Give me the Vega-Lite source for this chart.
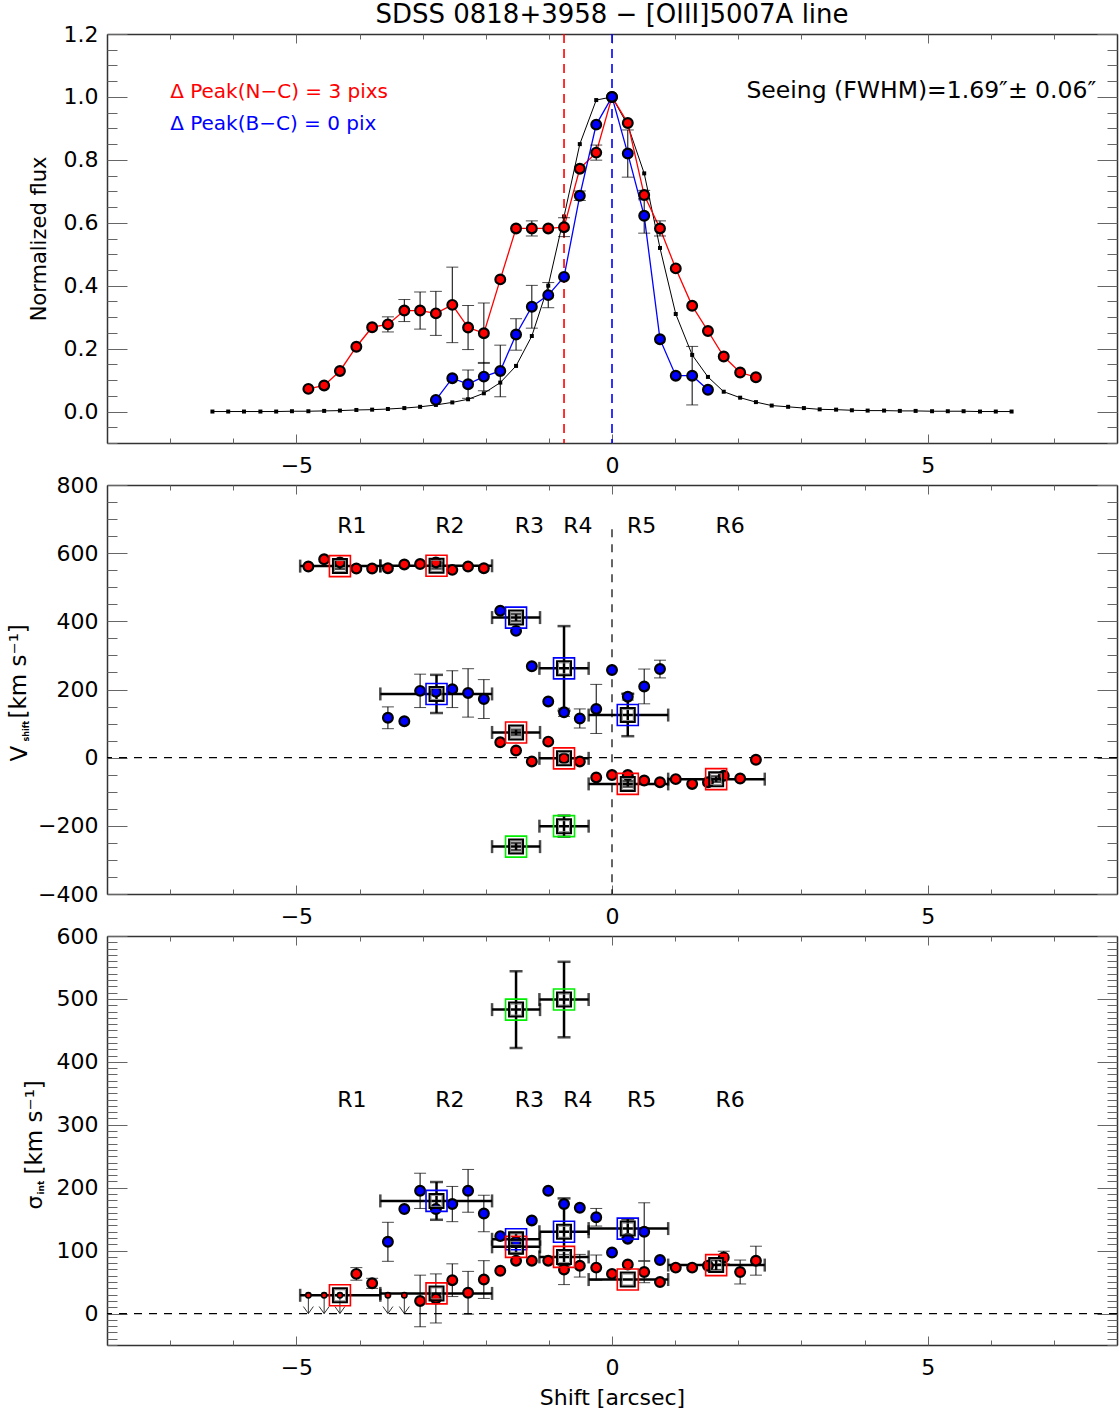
{
  "$schema": "https://vega.github.io/schema/vega-lite/v6.json",
  "padding": {"left": 7, "top": 2, "right": 1, "bottom": 0},
  "title": {"text": "SDSS 0818+3958 − [OIII]5007A line", "fontSize": 26, "fontWeight": "normal", "font": "DejaVu Sans", "color": "black", "anchor": "middle", "frame": "group", "offset": -5},
  "config": {
    "view": {"stroke": null},
    "font": "DejaVu Sans",
    "axis": {"grid": false, "domainColor": "#333", "domainWidth": 1.5, "tickColor": "#666", "tickWidth": 1, "labelFont": "DejaVu Sans", "labelFontSize": 22, "labelColor": "black", "titleFont": "DejaVu Sans", "titleFontSize": 21, "titleFontWeight": "normal", "titleColor": "black", "labelOverlap": false, "labelFlush": false, "labelBound": false},
    "text": {"font": "DejaVu Sans", "color": "black"}
  },
  "datasets": {
    "profileC": [
      {"shift": -6.33, "flux": 0.0}, {"shift": -6.08, "flux": 0.0}, {"shift": -5.83, "flux": 0.0}, {"shift": -5.57, "flux": 0.0}, {"shift": -5.32, "flux": 0.0}, {"shift": -5.07, "flux": 0.001},
      {"shift": -4.81, "flux": 0.001}, {"shift": -4.56, "flux": 0.002}, {"shift": -4.31, "flux": 0.003}, {"shift": -4.05, "flux": 0.005}, {"shift": -3.80, "flux": 0.006}, {"shift": -3.55, "flux": 0.008},
      {"shift": -3.29, "flux": 0.011}, {"shift": -3.04, "flux": 0.015}, {"shift": -2.79, "flux": 0.021}, {"shift": -2.53, "flux": 0.029}, {"shift": -2.28, "flux": 0.039}, {"shift": -2.03, "flux": 0.058},
      {"shift": -1.77, "flux": 0.092}, {"shift": -1.52, "flux": 0.145}, {"shift": -1.27, "flux": 0.24}, {"shift": -1.01, "flux": 0.40}, {"shift": -0.76, "flux": 0.62}, {"shift": -0.51, "flux": 0.85},
      {"shift": -0.25, "flux": 0.99}, {"shift": 0, "flux": 1.0}, {"shift": 0.25, "flux": 0.91}, {"shift": 0.51, "flux": 0.757}, {"shift": 0.76, "flux": 0.52}, {"shift": 1.01, "flux": 0.31},
      {"shift": 1.27, "flux": 0.18}, {"shift": 1.52, "flux": 0.11}, {"shift": 1.77, "flux": 0.063}, {"shift": 2.03, "flux": 0.044}, {"shift": 2.28, "flux": 0.03}, {"shift": 2.53, "flux": 0.019},
      {"shift": 2.79, "flux": 0.015}, {"shift": 3.04, "flux": 0.011}, {"shift": 3.29, "flux": 0.007}, {"shift": 3.55, "flux": 0.006}, {"shift": 3.80, "flux": 0.004}, {"shift": 4.05, "flux": 0.003},
      {"shift": 4.31, "flux": 0.003}, {"shift": 4.56, "flux": 0.002}, {"shift": 4.81, "flux": 0.002}, {"shift": 5.07, "flux": 0.001}, {"shift": 5.32, "flux": 0.001}, {"shift": 5.57, "flux": 0.001},
      {"shift": 5.83, "flux": 0.0}, {"shift": 6.08, "flux": 0.0}, {"shift": 6.33, "flux": 0.0}
    ],
    "profileN": [
      {"shift": -4.81, "flux": 0.072, "err": 0.008}, {"shift": -4.56, "flux": 0.083, "err": 0.008}, {"shift": -4.31, "flux": 0.129, "err": 0.008},
      {"shift": -4.05, "flux": 0.206, "err": 0.01}, {"shift": -3.80, "flux": 0.268, "err": 0.01}, {"shift": -3.55, "flux": 0.277, "err": 0.024},
      {"shift": -3.29, "flux": 0.321, "err": 0.035}, {"shift": -3.04, "flux": 0.321, "err": 0.059}, {"shift": -2.79, "flux": 0.312, "err": 0.07},
      {"shift": -2.53, "flux": 0.339, "err": 0.12}, {"shift": -2.28, "flux": 0.267, "err": 0.07}, {"shift": -2.03, "flux": 0.249, "err": 0.096},
      {"shift": -1.77, "flux": 0.42, "err": 0.012}, {"shift": -1.52, "flux": 0.582, "err": 0.01}, {"shift": -1.27, "flux": 0.582, "err": 0.024},
      {"shift": -1.01, "flux": 0.582, "err": 0.012}, {"shift": -0.76, "flux": 0.586, "err": 0.03}, {"shift": -0.51, "flux": 0.772, "err": 0.01},
      {"shift": -0.25, "flux": 0.823, "err": 0.024}, {"shift": 0, "flux": 1.0, "err": 0.005}, {"shift": 0.25, "flux": 0.917, "err": 0.01},
      {"shift": 0.51, "flux": 0.688, "err": 0.015}, {"shift": 0.76, "flux": 0.582, "err": 0.024}, {"shift": 1.01, "flux": 0.455, "err": 0.008},
      {"shift": 1.27, "flux": 0.336, "err": 0.008}, {"shift": 1.52, "flux": 0.256, "err": 0.008}, {"shift": 1.77, "flux": 0.175, "err": 0.008},
      {"shift": 2.03, "flux": 0.124, "err": 0.008}, {"shift": 2.28, "flux": 0.109, "err": 0.008}
    ],
    "profileB": [
      {"shift": -2.79, "flux": 0.037, "err": 0.008}, {"shift": -2.53, "flux": 0.106, "err": 0.008}, {"shift": -2.28, "flux": 0.087, "err": 0.045},
      {"shift": -2.03, "flux": 0.111, "err": 0.045}, {"shift": -1.77, "flux": 0.129, "err": 0.082}, {"shift": -1.52, "flux": 0.245, "err": 0.05},
      {"shift": -1.27, "flux": 0.333, "err": 0.068}, {"shift": -1.01, "flux": 0.37, "err": 0.04}, {"shift": -0.76, "flux": 0.428, "err": 0.01},
      {"shift": -0.51, "flux": 0.686, "err": 0.015}, {"shift": -0.25, "flux": 0.912, "err": 0.01}, {"shift": 0, "flux": 1.0, "err": 0.005},
      {"shift": 0.25, "flux": 0.82, "err": 0.075}, {"shift": 0.51, "flux": 0.622, "err": 0.055}, {"shift": 0.76, "flux": 0.23, "err": 0.008},
      {"shift": 1.01, "flux": 0.114, "err": 0.008}, {"shift": 1.27, "flux": 0.114, "err": 0.093}, {"shift": 1.52, "flux": 0.069, "err": 0.008}
    ],
    "regions": [
      {"region": "R1", "center": -4.12}, {"region": "R2", "center": -2.57}, {"region": "R3", "center": -1.31},
      {"region": "R4", "center": -0.54}, {"region": "R5", "center": 0.47}, {"region": "R6", "center": 1.87}
    ],
    "vshift": [
      {"shift": -4.81, "v": 561, "err": 0, "comp": "N"}, {"shift": -4.56, "v": 582, "err": 0, "comp": "N"}, {"shift": -4.31, "v": 573, "err": 0, "comp": "N"},
      {"shift": -4.05, "v": 555, "err": 0, "comp": "N"}, {"shift": -3.80, "v": 555, "err": 0, "comp": "N"}, {"shift": -3.55, "v": 556, "err": 0, "comp": "N"},
      {"shift": -3.29, "v": 567, "err": 0, "comp": "N"}, {"shift": -3.04, "v": 568, "err": 0, "comp": "N"}, {"shift": -2.79, "v": 573, "err": 0, "comp": "N"},
      {"shift": -2.53, "v": 551, "err": 0, "comp": "N"}, {"shift": -2.28, "v": 561, "err": 0, "comp": "N"}, {"shift": -2.03, "v": 556, "err": 0, "comp": "N"},
      {"shift": -1.77, "v": 45, "err": 0, "comp": "N"}, {"shift": -1.52, "v": 21, "err": 0, "comp": "N"}, {"shift": -1.27, "v": -11, "err": 0, "comp": "N"},
      {"shift": -1.01, "v": 47, "err": 0, "comp": "N"}, {"shift": -0.76, "v": -2, "err": 0, "comp": "N"}, {"shift": -0.51, "v": -11, "err": 0, "comp": "N"},
      {"shift": -0.25, "v": -58, "err": 0, "comp": "N"}, {"shift": 0, "v": -51, "err": 0, "comp": "N"}, {"shift": 0.25, "v": -51, "err": 0, "comp": "N"},
      {"shift": 0.51, "v": -67, "err": 0, "comp": "N"}, {"shift": 0.76, "v": -72, "err": 0, "comp": "N"}, {"shift": 1.01, "v": -63, "err": 0, "comp": "N"},
      {"shift": 1.27, "v": -77, "err": 0, "comp": "N"}, {"shift": 1.52, "v": -72, "err": 0, "comp": "N"}, {"shift": 1.77, "v": -53, "err": 0, "comp": "N"},
      {"shift": 2.03, "v": -61, "err": 0, "comp": "N"}, {"shift": 2.28, "v": -6, "err": 0, "comp": "N"},
      {"shift": -3.55, "v": 117, "err": 32, "comp": "B"}, {"shift": -3.29, "v": 107, "err": 0, "comp": "B"}, {"shift": -3.04, "v": 196, "err": 49, "comp": "B"},
      {"shift": -2.79, "v": 193, "err": 0, "comp": "B"}, {"shift": -2.53, "v": 201, "err": 54, "comp": "B"}, {"shift": -2.28, "v": 190, "err": 71, "comp": "B"},
      {"shift": -2.03, "v": 172, "err": 57, "comp": "B"}, {"shift": -1.77, "v": 431, "err": 0, "comp": "B"}, {"shift": -1.52, "v": 372, "err": 0, "comp": "B"},
      {"shift": -1.27, "v": 268, "err": 0, "comp": "B"}, {"shift": -1.01, "v": 165, "err": 0, "comp": "B"}, {"shift": -0.76, "v": 133, "err": 12, "comp": "B"},
      {"shift": -0.51, "v": 115, "err": 28, "comp": "B"}, {"shift": -0.25, "v": 143, "err": 72, "comp": "B"}, {"shift": 0, "v": 257, "err": 0, "comp": "B"},
      {"shift": 0.25, "v": 179, "err": 10, "comp": "B"}, {"shift": 0.51, "v": 209, "err": 51, "comp": "B"}, {"shift": 0.76, "v": 260, "err": 26, "comp": "B"}
    ],
    "vbox": [
      {"region": "R1", "shift": -4.31, "xlo": -4.94, "xhi": -3.67, "v": 562, "err": 8, "comp": "N"},
      {"region": "R2", "shift": -2.78, "xlo": -3.67, "xhi": -1.90, "v": 563, "err": 8, "comp": "N"},
      {"region": "R2", "shift": -2.78, "xlo": -3.67, "xhi": -1.90, "v": 187, "err": 56, "comp": "B"},
      {"region": "R3", "shift": -1.52, "xlo": -1.90, "xhi": -1.14, "v": 411, "err": 10, "comp": "B"},
      {"region": "R3", "shift": -1.52, "xlo": -1.90, "xhi": -1.14, "v": 74, "err": 8, "comp": "N"},
      {"region": "R3", "shift": -1.52, "xlo": -1.90, "xhi": -1.14, "v": -261, "err": 10, "comp": "W"},
      {"region": "R4", "shift": -0.76, "xlo": -1.15, "xhi": -0.37, "v": 262, "err": 124, "comp": "B"},
      {"region": "R4", "shift": -0.76, "xlo": -1.15, "xhi": -0.37, "v": -2, "err": 8, "comp": "N"},
      {"region": "R4", "shift": -0.76, "xlo": -1.15, "xhi": -0.37, "v": -201, "err": 31, "comp": "W"},
      {"region": "R5", "shift": 0.25, "xlo": -0.37, "xhi": 0.89, "v": 125, "err": 62, "comp": "B"},
      {"region": "R5", "shift": 0.25, "xlo": -0.37, "xhi": 0.89, "v": -77, "err": 8, "comp": "N"},
      {"region": "R6", "shift": 1.65, "xlo": 0.89, "xhi": 2.42, "v": -63, "err": 8, "comp": "N"}
    ],
    "sigma": [
      {"shift": -4.81, "s": 29, "err": 0, "comp": "N", "limit": true}, {"shift": -4.56, "s": 29, "err": 0, "comp": "N", "limit": true},
      {"shift": -4.31, "s": 29, "err": 0, "comp": "N", "limit": true}, {"shift": -4.05, "s": 63, "err": 10, "comp": "N", "limit": false},
      {"shift": -3.80, "s": 48, "err": 8, "comp": "N", "limit": false}, {"shift": -3.55, "s": 29, "err": 0, "comp": "N", "limit": true},
      {"shift": -3.29, "s": 29, "err": 0, "comp": "N", "limit": true}, {"shift": -3.04, "s": 20, "err": 41, "comp": "N", "limit": false},
      {"shift": -2.79, "s": 24, "err": 39, "comp": "N", "limit": false}, {"shift": -2.53, "s": 53, "err": 26, "comp": "N", "limit": false},
      {"shift": -2.28, "s": 33, "err": 34, "comp": "N", "limit": false}, {"shift": -2.03, "s": 54, "err": 30, "comp": "N", "limit": false},
      {"shift": -1.77, "s": 68, "err": 0, "comp": "N", "limit": false}, {"shift": -1.52, "s": 84, "err": 0, "comp": "N", "limit": false},
      {"shift": -1.27, "s": 84, "err": 0, "comp": "N", "limit": false}, {"shift": -1.01, "s": 84, "err": 0, "comp": "N", "limit": false},
      {"shift": -0.76, "s": 70, "err": 24, "comp": "N", "limit": false}, {"shift": -0.51, "s": 76, "err": 18, "comp": "N", "limit": false},
      {"shift": -0.25, "s": 73, "err": 20, "comp": "N", "limit": false}, {"shift": 0, "s": 63, "err": 0, "comp": "N", "limit": false},
      {"shift": 0.25, "s": 78, "err": 0, "comp": "N", "limit": false}, {"shift": 0.51, "s": 66, "err": 17, "comp": "N", "limit": false},
      {"shift": 0.76, "s": 50, "err": 0, "comp": "N", "limit": false}, {"shift": 1.01, "s": 73, "err": 0, "comp": "N", "limit": false},
      {"shift": 1.27, "s": 73, "err": 0, "comp": "N", "limit": false}, {"shift": 1.52, "s": 76, "err": 0, "comp": "N", "limit": false},
      {"shift": 1.77, "s": 89, "err": 10, "comp": "N", "limit": false}, {"shift": 2.03, "s": 66, "err": 19, "comp": "N", "limit": false},
      {"shift": 2.28, "s": 84, "err": 23, "comp": "N", "limit": false},
      {"shift": -3.55, "s": 114, "err": 31, "comp": "B", "limit": false}, {"shift": -3.29, "s": 166, "err": 0, "comp": "B", "limit": false},
      {"shift": -3.04, "s": 195, "err": 28, "comp": "B", "limit": false}, {"shift": -2.79, "s": 166, "err": 0, "comp": "B", "limit": false},
      {"shift": -2.53, "s": 174, "err": 28, "comp": "B", "limit": false}, {"shift": -2.28, "s": 195, "err": 34, "comp": "B", "limit": false},
      {"shift": -2.03, "s": 159, "err": 29, "comp": "B", "limit": false}, {"shift": -1.77, "s": 123, "err": 0, "comp": "B", "limit": false},
      {"shift": -1.52, "s": 114, "err": 0, "comp": "B", "limit": false}, {"shift": -1.27, "s": 148, "err": 0, "comp": "B", "limit": false},
      {"shift": -1.01, "s": 195, "err": 0, "comp": "B", "limit": false}, {"shift": -0.76, "s": 174, "err": 0, "comp": "B", "limit": false},
      {"shift": -0.51, "s": 168, "err": 0, "comp": "B", "limit": false}, {"shift": -0.25, "s": 153, "err": 14, "comp": "B", "limit": false},
      {"shift": 0, "s": 97, "err": 0, "comp": "B", "limit": false}, {"shift": 0.25, "s": 119, "err": 0, "comp": "B", "limit": false},
      {"shift": 0.51, "s": 130, "err": 46, "comp": "B", "limit": false}, {"shift": 0.76, "s": 85, "err": 0, "comp": "B", "limit": false}
    ],
    "sbox": [
      {"region": "R1", "shift": -4.31, "xlo": -4.94, "xhi": -3.67, "s": 29, "err": 0, "comp": "N"},
      {"region": "R2", "shift": -2.78, "xlo": -3.67, "xhi": -1.90, "s": 32, "err": 0, "comp": "N"},
      {"region": "R2", "shift": -2.78, "xlo": -3.67, "xhi": -1.90, "s": 179, "err": 30, "comp": "B"},
      {"region": "R3", "shift": -1.52, "xlo": -1.90, "xhi": -1.14, "s": 118, "err": 10, "comp": "B"},
      {"region": "R3", "shift": -1.52, "xlo": -1.90, "xhi": -1.14, "s": 106, "err": 10, "comp": "N"},
      {"region": "R3", "shift": -1.52, "xlo": -1.90, "xhi": -1.14, "s": 483, "err": 61, "comp": "W"},
      {"region": "R4", "shift": -0.76, "xlo": -1.15, "xhi": -0.37, "s": 130, "err": 53, "comp": "B"},
      {"region": "R4", "shift": -0.76, "xlo": -1.15, "xhi": -0.37, "s": 90, "err": 0, "comp": "N"},
      {"region": "R4", "shift": -0.76, "xlo": -1.15, "xhi": -0.37, "s": 499, "err": 60, "comp": "W"},
      {"region": "R5", "shift": 0.25, "xlo": -0.37, "xhi": 0.89, "s": 135, "err": 15, "comp": "B"},
      {"region": "R5", "shift": 0.25, "xlo": -0.37, "xhi": 0.89, "s": 54, "err": 0, "comp": "N"},
      {"region": "R6", "shift": 1.65, "xlo": 0.89, "xhi": 2.42, "s": 77, "err": 8, "comp": "N"}
    ]
  },
  "spacing": 42,
  "bounds": "flush",
  "vconcat": [
    {
      "width": 1010, "height": 409,
      "resolve": {"axis": {"x": "independent", "y": "independent"}},
      "layer": [
        {"data": {"name": "profileC"}, "mark": {"type": "line", "color": "black", "strokeWidth": 1},
         "encoding": {
           "x": {"field": "shift", "type": "quantitative", "scale": {"domain": [-8, 8], "nice": false, "zero": false},
                 "axis": {"orient": "bottom", "values": [-5, 0, 5], "tickSize": -9, "labelPadding": 21, "title": null}},
           "y": {"field": "flux", "type": "quantitative", "scale": {"domain": [-0.1, 1.2], "nice": false, "zero": false},
                 "axis": {"orient": "left", "values": [0, 0.2, 0.4, 0.6, 0.8, 1, 1.2], "format": ".1f", "tickSize": -20, "labelPadding": 29, "title": "Normalized flux", "titlePadding": 14}}
         }},
        {"data": {"name": "profileC"}, "mark": {"type": "square", "color": "black", "size": 16, "opacity": 1},
         "encoding": {
           "x": {"field": "shift", "type": "quantitative", "scale": {"domain": [-8, 8], "nice": false, "zero": false},
                 "axis": {"orient": "bottom", "values": [-8, -7, -6, -5, -4, -3, -2, -1, 0, 1, 2, 3, 4, 5, 6, 7, 8], "tickSize": -5, "labels": false, "domain": false, "title": null}},
           "y": {"field": "flux", "type": "quantitative", "scale": {"domain": [-0.1, 1.2], "nice": false, "zero": false},
                 "axis": {"orient": "left", "values": [-0.1, -0.05, 0, 0.05, 0.1, 0.15, 0.2, 0.25, 0.3, 0.35, 0.4, 0.45, 0.5, 0.55, 0.6, 0.65, 0.7, 0.75, 0.8, 0.85, 0.9, 0.95, 1, 1.05, 1.1, 1.15, 1.2], "tickSize": -10, "labels": false, "domain": false, "title": null}}
         }},
        {"data": {"name": "profileN"}, "mark": {"type": "line", "color": "#ff0000", "strokeWidth": 1.3},
         "encoding": {
           "x": {"field": "shift", "type": "quantitative", "scale": {"domain": [-8, 8], "nice": false, "zero": false},
                 "axis": {"orient": "top", "values": [-5, 0, 5], "tickSize": -9, "labels": false, "title": null}},
           "y": {"field": "flux", "type": "quantitative", "scale": {"domain": [-0.1, 1.2], "nice": false, "zero": false},
                 "axis": {"orient": "right", "values": [0, 0.2, 0.4, 0.6, 0.8, 1, 1.2], "tickSize": -20, "labels": false, "title": null}}
         }},
        {"data": {"name": "profileB"}, "mark": {"type": "line", "color": "#0000ff", "strokeWidth": 1.3},
         "encoding": {
           "x": {"field": "shift", "type": "quantitative", "scale": {"domain": [-8, 8], "nice": false, "zero": false},
                 "axis": {"orient": "top", "values": [-8, -7, -6, -5, -4, -3, -2, -1, 0, 1, 2, 3, 4, 5, 6, 7, 8], "tickSize": -5, "labels": false, "domain": false, "title": null}},
           "y": {"field": "flux", "type": "quantitative", "scale": {"domain": [-0.1, 1.2], "nice": false, "zero": false},
                 "axis": {"orient": "right", "values": [-0.1, -0.05, 0, 0.05, 0.1, 0.15, 0.2, 0.25, 0.3, 0.35, 0.4, 0.45, 0.5, 0.55, 0.6, 0.65, 0.7, 0.75, 0.8, 0.85, 0.9, 0.95, 1, 1.05, 1.1, 1.15, 1.2], "tickSize": -10, "labels": false, "domain": false, "title": null}}
         }},
        {"data": {"values": [{"peak": "N"}]}, "mark": {"type": "rule", "color": "#ff0000", "strokeWidth": 1.6, "strokeDash": [9, 6]},
         "encoding": {"x": {"datum": -0.76, "type": "quantitative", "scale": {"domain": [-8, 8], "nice": false, "zero": false}, "axis": null}}},
        {"data": {"values": [{"peak": "B"}]}, "mark": {"type": "rule", "color": "#0000ff", "strokeWidth": 1.6, "strokeDash": [9, 6]},
         "encoding": {"x": {"datum": 0, "type": "quantitative", "scale": {"domain": [-8, 8], "nice": false, "zero": false}, "axis": null}}},
        {"data": {"name": "profileN"}, "transform": [{"filter": "datum.err > 0.012"}],
         "mark": {"type": "errorbar", "ticks": true, "color": "black", "thickness": 1, "size": 12},
         "encoding": {
           "x": {"field": "shift", "type": "quantitative", "scale": {"domain": [-8, 8], "nice": false, "zero": false}, "axis": null},
           "y": {"field": "flux", "type": "quantitative", "scale": {"domain": [-0.1, 1.2], "nice": false, "zero": false}, "axis": null},
           "yError": {"field": "err"}
         }},
        {"data": {"name": "profileB"}, "transform": [{"filter": "datum.err > 0.012"}],
         "mark": {"type": "errorbar", "ticks": true, "color": "black", "thickness": 1, "size": 12},
         "encoding": {
           "x": {"field": "shift", "type": "quantitative", "scale": {"domain": [-8, 8], "nice": false, "zero": false}, "axis": null},
           "y": {"field": "flux", "type": "quantitative", "scale": {"domain": [-0.1, 1.2], "nice": false, "zero": false}, "axis": null},
           "yError": {"field": "err"}
         }},
        {"data": {"name": "profileN"}, "mark": {"type": "circle", "size": 95, "fill": "#ff0000", "stroke": "black", "strokeWidth": 2.2, "opacity": 1},
         "encoding": {
           "x": {"field": "shift", "type": "quantitative", "scale": {"domain": [-8, 8], "nice": false, "zero": false}, "axis": null},
           "y": {"field": "flux", "type": "quantitative", "scale": {"domain": [-0.1, 1.2], "nice": false, "zero": false}, "axis": null}
         }},
        {"data": {"name": "profileB"}, "mark": {"type": "circle", "size": 95, "fill": "#0000ff", "stroke": "black", "strokeWidth": 2.2, "opacity": 1},
         "encoding": {
           "x": {"field": "shift", "type": "quantitative", "scale": {"domain": [-8, 8], "nice": false, "zero": false}, "axis": null},
           "y": {"field": "flux", "type": "quantitative", "scale": {"domain": [-0.1, 1.2], "nice": false, "zero": false}, "axis": null}
         }},
        {"data": {"values": [{"note": "Δ Peak(N−C) = 3 pixs"}]}, "mark": {"type": "text", "fontSize": 20, "align": "left", "baseline": "alphabetic", "color": "#ff0000"},
         "encoding": {
           "x": {"datum": -7.0, "type": "quantitative", "scale": {"domain": [-8, 8], "nice": false, "zero": false}, "axis": null},
           "y": {"datum": 0.995, "type": "quantitative", "scale": {"domain": [-0.1, 1.2], "nice": false, "zero": false}, "axis": null},
           "text": {"field": "note"}
         }},
        {"data": {"values": [{"note": "Δ Peak(B−C) = 0 pix"}]}, "mark": {"type": "text", "fontSize": 20, "align": "left", "baseline": "alphabetic", "color": "#0000ff"},
         "encoding": {
           "x": {"datum": -7.0, "type": "quantitative", "scale": {"domain": [-8, 8], "nice": false, "zero": false}, "axis": null},
           "y": {"datum": 0.894, "type": "quantitative", "scale": {"domain": [-0.1, 1.2], "nice": false, "zero": false}, "axis": null},
           "text": {"field": "note"}
         }},
        {"data": {"values": [{"note": "Seeing (FWHM)=1.69″± 0.06″"}]}, "mark": {"type": "text", "fontSize": 23.5, "align": "right", "baseline": "alphabetic", "color": "black"},
         "encoding": {
           "x": {"datum": 7.67, "type": "quantitative", "scale": {"domain": [-8, 8], "nice": false, "zero": false}, "axis": null},
           "y": {"datum": 0.998, "type": "quantitative", "scale": {"domain": [-0.1, 1.2], "nice": false, "zero": false}, "axis": null},
           "text": {"field": "note"}
         }}
      ]
    },
    {
      "width": 1010, "height": 409,
      "resolve": {"axis": {"x": "independent", "y": "independent"}},
      "layer": [
        {"data": {"values": [{"ref": "zero"}]}, "mark": {"type": "rule", "color": "black", "strokeWidth": 1.2, "strokeDash": [8, 7]},
         "encoding": {"y": {"datum": 0, "type": "quantitative", "scale": {"domain": [-400, 800], "nice": false, "zero": false}, "axis": null}}},
        {"data": {"values": [{"ref": "zero"}]}, "mark": {"type": "rule", "color": "black", "strokeWidth": 1.2, "strokeDash": [8, 7]},
         "encoding": {
           "x": {"datum": 0, "type": "quantitative", "scale": {"domain": [-8, 8], "nice": false, "zero": false}, "axis": null},
           "y": {"datum": 670, "type": "quantitative", "scale": {"domain": [-400, 800], "nice": false, "zero": false}, "axis": null},
           "y2": {"datum": -400}
         }},
        {"data": {"name": "vbox"},
         "mark": {"type": "errorbar", "ticks": true, "color": "black", "thickness": 2.5, "size": 13},
         "encoding": {
           "x": {"field": "xlo", "type": "quantitative", "scale": {"domain": [-8, 8], "nice": false, "zero": false}, "axis": null},
           "x2": {"field": "xhi"},
           "y": {"field": "v", "type": "quantitative", "scale": {"domain": [-400, 800], "nice": false, "zero": false}, "axis": null}
         }},
        {"data": {"name": "vbox"}, "transform": [{"filter": "datum.err > 0"}],
         "mark": {"type": "errorbar", "ticks": true, "color": "black", "thickness": 2.5, "size": 13},
         "encoding": {
           "x": {"field": "shift", "type": "quantitative", "scale": {"domain": [-8, 8], "nice": false, "zero": false}, "axis": null},
           "y": {"field": "v", "type": "quantitative", "scale": {"domain": [-400, 800], "nice": false, "zero": false}, "axis": null},
           "yError": {"field": "err"}
         }},
        {"data": {"name": "vshift"}, "transform": [{"filter": "datum.err > 0"}],
         "mark": {"type": "errorbar", "ticks": true, "color": "black", "thickness": 1, "size": 12},
         "encoding": {
           "x": {"field": "shift", "type": "quantitative", "scale": {"domain": [-8, 8], "nice": false, "zero": false}, "axis": null},
           "y": {"field": "v", "type": "quantitative", "scale": {"domain": [-400, 800], "nice": false, "zero": false}, "axis": null},
           "yError": {"field": "err"}
         }},
        {"data": {"name": "vshift"}, "mark": {"type": "circle", "size": 95, "stroke": "black", "strokeWidth": 2.2, "opacity": 1},
         "encoding": {
           "x": {"field": "shift", "type": "quantitative", "scale": {"domain": [-8, 8], "nice": false, "zero": false},
                 "axis": {"orient": "bottom", "values": [-5, 0, 5], "tickSize": -9, "labelPadding": 21, "title": null}},
           "y": {"field": "v", "type": "quantitative", "scale": {"domain": [-400, 800], "nice": false, "zero": false},
                 "axis": {"orient": "left", "values": [-400, -200, 0, 200, 400, 600, 800], "tickSize": -20, "labelPadding": 29, "title": null}},
           "fill": {"field": "comp", "type": "nominal", "scale": {"domain": ["N", "B", "W"], "range": ["#ff0000", "#0000ff", "#00ee00"]}, "legend": null}
         }},
        {"data": {"name": "vbox"}, "mark": {"type": "point", "shape": "square", "size": 441, "filled": false, "strokeWidth": 1.6, "opacity": 1},
         "encoding": {
           "x": {"field": "shift", "type": "quantitative", "scale": {"domain": [-8, 8], "nice": false, "zero": false},
                 "axis": {"orient": "top", "values": [-5, 0, 5], "tickSize": -9, "labels": false, "title": null}},
           "y": {"field": "v", "type": "quantitative", "scale": {"domain": [-400, 800], "nice": false, "zero": false},
                 "axis": {"orient": "right", "values": [-400, -200, 0, 200, 400, 600, 800], "tickSize": -20, "labels": false, "title": null}},
           "stroke": {"field": "comp", "type": "nominal", "scale": {"domain": ["N", "B", "W"], "range": ["#ff0000", "#0000ff", "#00ee00"]}, "legend": null}
         }},
        {"data": {"name": "vbox"}, "mark": {"type": "point", "shape": "square", "size": 121, "filled": false, "stroke": "#888", "strokeWidth": 1, "opacity": 1},
         "encoding": {
           "x": {"field": "shift", "type": "quantitative", "scale": {"domain": [-8, 8], "nice": false, "zero": false},
                 "axis": {"orient": "bottom", "values": [-8, -7, -6, -5, -4, -3, -2, -1, 0, 1, 2, 3, 4, 5, 6, 7, 8], "tickSize": -5, "labels": false, "domain": false, "title": null}},
           "y": {"field": "v", "type": "quantitative", "scale": {"domain": [-400, 800], "nice": false, "zero": false},
                 "axis": {"orient": "left", "values": [-400, -350, -300, -250, -200, -150, -100, -50, 0, 50, 100, 150, 200, 250, 300, 350, 400, 450, 500, 550, 600, 650, 700, 750, 800], "tickSize": -10, "labels": false, "domain": false, "title": null}}
         }},
        {"data": {"name": "vbox"}, "mark": {"type": "point", "shape": "square", "size": 196, "filled": false, "stroke": "black", "strokeWidth": 2, "opacity": 1},
         "encoding": {
           "x": {"field": "shift", "type": "quantitative", "scale": {"domain": [-8, 8], "nice": false, "zero": false},
                 "axis": {"orient": "top", "values": [-8, -7, -6, -5, -4, -3, -2, -1, 0, 1, 2, 3, 4, 5, 6, 7, 8], "tickSize": -5, "labels": false, "domain": false, "title": null}},
           "y": {"field": "v", "type": "quantitative", "scale": {"domain": [-400, 800], "nice": false, "zero": false},
                 "axis": {"orient": "right", "values": [-400, -350, -300, -250, -200, -150, -100, -50, 0, 50, 100, 150, 200, 250, 300, 350, 400, 450, 500, 550, 600, 650, 700, 750, 800], "tickSize": -10, "labels": false, "domain": false, "title": null}}
         }},
        {"data": {"name": "regions"}, "mark": {"type": "text", "fontSize": 22, "align": "center", "baseline": "middle"},
         "encoding": {
           "x": {"field": "center", "type": "quantitative", "scale": {"domain": [-8, 8], "nice": false, "zero": false}, "axis": null},
           "y": {"datum": 680, "type": "quantitative", "scale": {"domain": [-400, 800], "nice": false, "zero": false}, "axis": null},
           "text": {"field": "region"}
         }},
        {"data": {"values": [{"part": "V"}]}, "mark": {"type": "text", "fontSize": 23, "angle": 270, "align": "left", "baseline": "alphabetic", "dx": -72, "dy": 8},
         "encoding": {
           "x": {"datum": -9.4, "type": "quantitative", "scale": {"domain": [-8, 8], "nice": false, "zero": false}, "axis": null},
           "y": {"datum": 200, "type": "quantitative", "scale": {"domain": [-400, 800], "nice": false, "zero": false}, "axis": null},
           "text": {"field": "part"}
         }},
        {"data": {"values": [{"part": "shift"}]}, "mark": {"type": "text", "fontSize": 8, "fontWeight": "bold", "angle": 270, "align": "left", "baseline": "alphabetic", "dx": -52, "dy": 10},
         "encoding": {
           "x": {"datum": -9.4, "type": "quantitative", "scale": {"domain": [-8, 8], "nice": false, "zero": false}, "axis": null},
           "y": {"datum": 200, "type": "quantitative", "scale": {"domain": [-400, 800], "nice": false, "zero": false}, "axis": null},
           "text": {"field": "part"}
         }},
        {"data": {"values": [{"part": "[km s⁻¹]"}]}, "mark": {"type": "text", "fontSize": 23, "angle": 270, "align": "left", "baseline": "alphabetic", "dx": -29, "dy": 7},
         "encoding": {
           "x": {"datum": -9.4, "type": "quantitative", "scale": {"domain": [-8, 8], "nice": false, "zero": false}, "axis": null},
           "y": {"datum": 200, "type": "quantitative", "scale": {"domain": [-400, 800], "nice": false, "zero": false}, "axis": null},
           "text": {"field": "part"}
         }}
      ]
    },
    {
      "width": 1010, "height": 409,
      "resolve": {"axis": {"x": "independent", "y": "independent"}},
      "layer": [
        {"data": {"values": [{"ref": "zero"}]}, "mark": {"type": "rule", "color": "black", "strokeWidth": 1.2, "strokeDash": [8, 7]},
         "encoding": {"y": {"datum": 0, "type": "quantitative", "scale": {"domain": [-50, 600], "nice": false, "zero": false}, "axis": null}}},
        {"data": {"name": "sigma"}, "transform": [{"filter": "datum.limit"}], "mark": {"type": "rule", "color": "black", "strokeWidth": 0.8},
         "encoding": {
           "x": {"field": "shift", "type": "quantitative", "scale": {"domain": [-8, 8], "nice": false, "zero": false}, "axis": null},
           "y": {"field": "s", "type": "quantitative", "scale": {"domain": [-50, 600], "nice": false, "zero": false}, "axis": null},
           "y2": {"datum": 0}
         }},
        {"data": {"name": "sigma"}, "transform": [{"filter": "datum.limit"}],
         "mark": {"type": "point", "shape": "M -1 -1.4 L 0 0 L 1 -1.4", "size": 100, "filled": false, "stroke": "black", "strokeWidth": 0.8, "opacity": 1},
         "encoding": {
           "x": {"field": "shift", "type": "quantitative", "scale": {"domain": [-8, 8], "nice": false, "zero": false}, "axis": null},
           "y": {"datum": 0, "type": "quantitative", "scale": {"domain": [-50, 600], "nice": false, "zero": false}, "axis": null}
         }},
        {"data": {"name": "sbox"},
         "mark": {"type": "errorbar", "ticks": true, "color": "black", "thickness": 2.5, "size": 13},
         "encoding": {
           "x": {"field": "xlo", "type": "quantitative", "scale": {"domain": [-8, 8], "nice": false, "zero": false}, "axis": null},
           "x2": {"field": "xhi"},
           "y": {"field": "s", "type": "quantitative", "scale": {"domain": [-50, 600], "nice": false, "zero": false}, "axis": null}
         }},
        {"data": {"name": "sbox"}, "transform": [{"filter": "datum.err > 0"}],
         "mark": {"type": "errorbar", "ticks": true, "color": "black", "thickness": 2.5, "size": 13},
         "encoding": {
           "x": {"field": "shift", "type": "quantitative", "scale": {"domain": [-8, 8], "nice": false, "zero": false}, "axis": null},
           "y": {"field": "s", "type": "quantitative", "scale": {"domain": [-50, 600], "nice": false, "zero": false}, "axis": null},
           "yError": {"field": "err"}
         }},
        {"data": {"name": "sigma"}, "transform": [{"filter": "datum.err > 0"}],
         "mark": {"type": "errorbar", "ticks": true, "color": "black", "thickness": 1, "size": 12},
         "encoding": {
           "x": {"field": "shift", "type": "quantitative", "scale": {"domain": [-8, 8], "nice": false, "zero": false}, "axis": null},
           "y": {"field": "s", "type": "quantitative", "scale": {"domain": [-50, 600], "nice": false, "zero": false}, "axis": null},
           "yError": {"field": "err"}
         }},
        {"data": {"name": "sigma"}, "transform": [{"filter": "!datum.limit"}], "mark": {"type": "circle", "size": 95, "stroke": "black", "strokeWidth": 2.2, "opacity": 1},
         "encoding": {
           "x": {"field": "shift", "type": "quantitative", "scale": {"domain": [-8, 8], "nice": false, "zero": false},
                 "axis": {"orient": "bottom", "values": [-5, 0, 5], "tickSize": -9, "labelPadding": 21, "title": "Shift [arcsec]", "titleFontSize": 22, "titlePadding": 9}},
           "y": {"field": "s", "type": "quantitative", "scale": {"domain": [-50, 600], "nice": false, "zero": false},
                 "axis": {"orient": "left", "values": [0, 100, 200, 300, 400, 500, 600], "tickSize": -20, "labelPadding": 29, "title": null}},
           "fill": {"field": "comp", "type": "nominal", "scale": {"domain": ["N", "B", "W"], "range": ["#ff0000", "#0000ff", "#00ee00"]}, "legend": null}
         }},
        {"data": {"name": "sigma"}, "transform": [{"filter": "datum.limit"}], "mark": {"type": "circle", "size": 28, "stroke": "black", "strokeWidth": 1.6, "opacity": 1},
         "encoding": {
           "x": {"field": "shift", "type": "quantitative", "scale": {"domain": [-8, 8], "nice": false, "zero": false}, "axis": null},
           "y": {"field": "s", "type": "quantitative", "scale": {"domain": [-50, 600], "nice": false, "zero": false}, "axis": null},
           "fill": {"field": "comp", "type": "nominal", "scale": {"domain": ["N", "B", "W"], "range": ["#ff0000", "#0000ff", "#00ee00"]}, "legend": null}
         }},
        {"data": {"name": "sbox"}, "mark": {"type": "point", "shape": "square", "size": 441, "filled": false, "strokeWidth": 1.6, "opacity": 1},
         "encoding": {
           "x": {"field": "shift", "type": "quantitative", "scale": {"domain": [-8, 8], "nice": false, "zero": false},
                 "axis": {"orient": "top", "values": [-5, 0, 5], "tickSize": -9, "labels": false, "title": null}},
           "y": {"field": "s", "type": "quantitative", "scale": {"domain": [-50, 600], "nice": false, "zero": false},
                 "axis": {"orient": "right", "values": [0, 100, 200, 300, 400, 500, 600], "tickSize": -20, "labels": false, "title": null}},
           "stroke": {"field": "comp", "type": "nominal", "scale": {"domain": ["N", "B", "W"], "range": ["#ff0000", "#0000ff", "#00ee00"]}, "legend": null}
         }},
        {"data": {"name": "sbox"}, "mark": {"type": "point", "shape": "square", "size": 121, "filled": false, "stroke": "#888", "strokeWidth": 1, "opacity": 1},
         "encoding": {
           "x": {"field": "shift", "type": "quantitative", "scale": {"domain": [-8, 8], "nice": false, "zero": false},
                 "axis": {"orient": "bottom", "values": [-8, -7, -6, -5, -4, -3, -2, -1, 0, 1, 2, 3, 4, 5, 6, 7, 8], "tickSize": -5, "labels": false, "domain": false, "title": null}},
           "y": {"field": "s", "type": "quantitative", "scale": {"domain": [-50, 600], "nice": false, "zero": false},
                 "axis": {"orient": "left", "values": [-50, -40, -30, -20, -10, 0, 10, 20, 30, 40, 50, 60, 70, 80, 90, 100, 110, 120, 130, 140, 150, 160, 170, 180, 190, 200, 210, 220, 230, 240, 250, 260, 270, 280, 290, 300, 310, 320, 330, 340, 350, 360, 370, 380, 390, 400, 410, 420, 430, 440, 450, 460, 470, 480, 490, 500, 510, 520, 530, 540, 550, 560, 570, 580, 590, 600], "tickSize": -10, "labels": false, "domain": false, "title": null}}
         }},
        {"data": {"name": "sbox"}, "mark": {"type": "point", "shape": "square", "size": 196, "filled": false, "stroke": "black", "strokeWidth": 2, "opacity": 1},
         "encoding": {
           "x": {"field": "shift", "type": "quantitative", "scale": {"domain": [-8, 8], "nice": false, "zero": false},
                 "axis": {"orient": "top", "values": [-8, -7, -6, -5, -4, -3, -2, -1, 0, 1, 2, 3, 4, 5, 6, 7, 8], "tickSize": -5, "labels": false, "domain": false, "title": null}},
           "y": {"field": "s", "type": "quantitative", "scale": {"domain": [-50, 600], "nice": false, "zero": false},
                 "axis": {"orient": "right", "values": [-50, -40, -30, -20, -10, 0, 10, 20, 30, 40, 50, 60, 70, 80, 90, 100, 110, 120, 130, 140, 150, 160, 170, 180, 190, 200, 210, 220, 230, 240, 250, 260, 270, 280, 290, 300, 310, 320, 330, 340, 350, 360, 370, 380, 390, 400, 410, 420, 430, 440, 450, 460, 470, 480, 490, 500, 510, 520, 530, 540, 550, 560, 570, 580, 590, 600], "tickSize": -10, "labels": false, "domain": false, "title": null}}
         }},
        {"data": {"name": "regions"}, "mark": {"type": "text", "fontSize": 22, "align": "center", "baseline": "middle"},
         "encoding": {
           "x": {"field": "center", "type": "quantitative", "scale": {"domain": [-8, 8], "nice": false, "zero": false}, "axis": null},
           "y": {"datum": 340, "type": "quantitative", "scale": {"domain": [-50, 600], "nice": false, "zero": false}, "axis": null},
           "text": {"field": "region"}
         }},
        {"data": {"values": [{"part": "σ"}]}, "mark": {"type": "text", "fontSize": 22, "angle": 270, "align": "left", "baseline": "alphabetic", "dx": -69, "dy": 8},
         "encoding": {
           "x": {"datum": -9.16, "type": "quantitative", "scale": {"domain": [-8, 8], "nice": false, "zero": false}, "axis": null},
           "y": {"datum": 275, "type": "quantitative", "scale": {"domain": [-50, 600], "nice": false, "zero": false}, "axis": null},
           "text": {"field": "part"}
         }},
        {"data": {"values": [{"part": "int"}]}, "mark": {"type": "text", "fontSize": 9, "fontWeight": "bold", "angle": 270, "align": "left", "baseline": "alphabetic", "dx": -54, "dy": 10},
         "encoding": {
           "x": {"datum": -9.16, "type": "quantitative", "scale": {"domain": [-8, 8], "nice": false, "zero": false}, "axis": null},
           "y": {"datum": 275, "type": "quantitative", "scale": {"domain": [-50, 600], "nice": false, "zero": false}, "axis": null},
           "text": {"field": "part"}
         }},
        {"data": {"values": [{"part": "[km s⁻¹]"}]}, "mark": {"type": "text", "fontSize": 23, "angle": 270, "align": "left", "baseline": "alphabetic", "dx": -34, "dy": 8},
         "encoding": {
           "x": {"datum": -9.16, "type": "quantitative", "scale": {"domain": [-8, 8], "nice": false, "zero": false}, "axis": null},
           "y": {"datum": 275, "type": "quantitative", "scale": {"domain": [-50, 600], "nice": false, "zero": false}, "axis": null},
           "text": {"field": "part"}
         }}
      ]
    }
  ]
}
